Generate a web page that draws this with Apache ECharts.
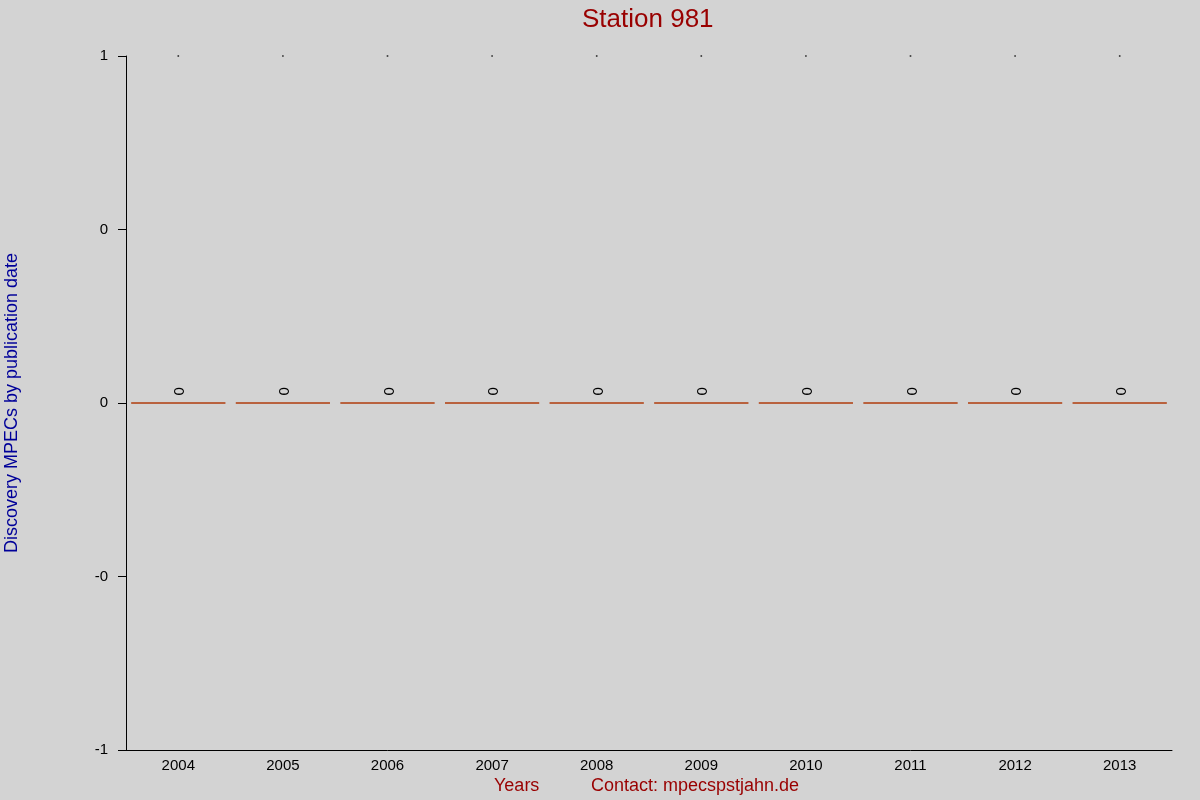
<!DOCTYPE html>
<html>
<head>
<meta charset="utf-8">
<script src="https://cdn.jsdelivr.net/npm/echarts@6/dist/echarts.min.js"></script>
<style>html,body{margin:0;padding:0;background:#d3d3d3;}#c{width:1200px;height:800px;}</style>
</head>
<body>
<div id="c"></div>
<script>
var years = ['2004','2005','2006','2007','2008','2009','2010','2011','2012','2013'];
var mpecCounts = [0,0,0,0,0,0,0,0,0,0];
var topMarks = [1,1,1,1,1,1,1,1,1,1];
var yTickValues = [-1,-0.5,0,0.5,1];
var yTickLabels = ['-1','-0','0','0','1'];

var chart = echarts.init(document.getElementById('c'));
var font = 'Liberation Sans, Arial, sans-serif';
chart.setOption({
  backgroundColor: '#d3d3d3',
  animation: false,
  textStyle: {fontFamily: font},
  title: {
    text: 'Station 981', left: 582, top: 7, padding: 0,
    textStyle: {color: '#990000', fontSize: 26, fontWeight: 'normal', fontFamily: font}
  },
  grid: {left: 126, right: 28, top: 56, bottom: 50, containLabel: false, outerBoundsMode: 'none'},
  xAxis: {
    type: 'category', data: years,
    axisLine: {onZero: false, lineStyle: {color: '#000', width: 1}},
    axisTick: {show: false},
    axisLabel: {color: '#000', fontSize: 15, margin: 8, fontFamily: font},
    splitLine: {show: false}
  },
  yAxis: {
    type: 'value', min: -1, max: 1, interval: 0.5,
    name: 'Discovery MPECs by publication date',
    nameLocation: 'middle', nameGap: 105, nameRotate: 90,
    nameTextStyle: {color: '#000099', fontSize: 18, fontFamily: font},
    axisLine: {show: true, lineStyle: {color: '#000', width: 1}},
    axisTick: {show: true, length: 8, lineStyle: {color: '#000'}},
    axisLabel: {color: '#000', fontSize: 15, margin: 18, fontFamily: font,
      formatter: function (v) {
        for (var i = 0; i < yTickValues.length; i++) {
          if (Math.abs(yTickValues[i] - v) < 1e-9) return yTickLabels[i];
        }
        return '';
      }},
    splitLine: {show: false}
  },
  series: [
    {
      type: 'bar', data: mpecCounts, barWidth: '90%',
      itemStyle: {color: 'rgba(0,0,0,0)', borderColor: '#b03c0c', borderWidth: 1},
      label: {
        show: true, position: 'top', rotate: 90, distance: 7, offset: [0, 2],
        align: 'left', verticalAlign: 'middle',
        color: '#000', fontSize: 15, fontFamily: font
      }
    },
    {
      type: 'scatter', data: topMarks, symbol: 'rect', symbolSize: 1.6,
      itemStyle: {color: '#000'}, silent: true
    }
  ],
  graphic: [
    {type: 'text', left: 494, top: 777,
      style: {text: 'Years', fill: '#990000', font: '18px ' + font}},
    {type: 'text', left: 591, top: 777,
      style: {text: 'Contact: mpecspstjahn.de', fill: '#990000', font: '18px ' + font}}
  ]
});
</script>
</body>
</html>
